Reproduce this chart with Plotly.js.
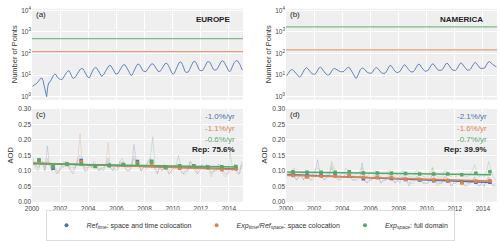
<!DOCTYPE html>
<html><head><meta charset="utf-8">
<script src="https://cdn.plot.ly/plotly-3.0.1.min.js"></script>
<style>html,body{margin:0;padding:0;background:#fff}#chart{width:500px;height:241px}</style>
</head><body><div id="chart"></div>
<script>
// ---------- DATA ----------
const startYear = 2000;
const years = [2000,2001,2002,2003,2004,2005,2006,2007,2008,2009,2010,2011,2012,2013,2014];
const yTickVals = [1,10,100,1000,10000];
const yTickText = ['10<sup>0</sup>','10<sup>1</sup>','10<sup>2</sup>','10<sup>3</sup>','10<sup>4</sup>'];

// Number of points (monthly), Europe
const euPoints = [
 3.0,3.2,3.6,3.9,4.3,5.0,6.5,7.0,7.2,5.5,3.0,1.5,
 1.0,3.0,4.5,4.8,6.0,8.5,10.0,11.0,10.5,8.0,6.8,6.5,
 6.3,6.0,7.0,9.0,11.0,13.0,15.0,16.0,13.0,9.0,7.5,7.0,
 7.5,8.5,11.0,14.0,17.0,19.0,20.0,19.5,16.0,12.0,9.0,8.0,
 7.5,8.0,11.0,15.0,19.0,21.0,22.0,20.0,16.0,12.0,9.5,8.5,
 10.0,11.0,14.0,18.0,22.0,26.0,28.0,26.0,21.0,16.0,12.0,11.0,
 11.5,12.0,15.0,19.0,24.0,28.0,30.0,29.0,24.0,18.0,14.0,12.0,
 9.5,10.0,13.0,18.0,24.0,29.0,32.0,31.0,26.0,20.0,16.0,15.0,
 14.0,15.0,18.0,22.0,27.0,31.0,33.0,32.0,27.0,21.0,17.0,15.0,
 14.5,15.0,18.0,23.0,28.0,33.0,35.0,33.0,27.0,20.0,15.0,12.0,
 11.0,12.0,16.0,22.0,30.0,37.0,40.0,38.0,30.0,21.0,15.0,13.0,
 13.0,14.0,18.0,25.0,33.0,40.0,43.0,41.0,33.0,24.0,18.0,16.0,
 15.5,16.0,19.0,26.0,34.0,40.0,42.0,40.0,33.0,24.0,19.0,17.0,
 17.0,17.5,21.0,28.0,36.0,42.0,45.0,43.0,35.0,26.0,20.0,17.0,
 14.0,16.0,21.0,29.0,37.0,43.0,46.0,45.0,38.0,30.0,22.0,17.0];
// Number of points (monthly), North America
const naPoints = [
 9.0,11.0,14.0,16.0,17.0,18.0,16.0,14.0,12.0,10.0,8.5,8.0,
 8.5,10.0,13.0,17.0,20.0,22.0,20.0,17.0,14.0,12.0,11.0,11.0,
 11.0,12.0,15.0,19.0,22.0,23.0,21.0,17.0,14.0,12.0,10.5,10.0,
 10.0,11.0,14.0,17.0,19.0,20.0,19.0,17.0,16.0,15.0,14.5,14.0,
 14.0,15.0,17.0,20.0,22.0,23.0,21.0,17.0,13.0,10.0,8.0,7.0,
 7.5,10.0,14.0,18.0,20.0,21.0,20.0,17.0,15.0,13.0,12.5,12.0,
 12.0,13.0,16.0,19.0,21.0,22.0,20.0,17.0,14.0,12.5,12.0,12.0,
 12.0,14.0,18.0,23.0,27.0,28.0,25.0,20.0,16.0,14.0,13.0,13.0,
 13.5,15.0,19.0,24.0,28.0,30.0,27.0,22.0,18.0,15.0,14.0,14.0,
 14.0,16.0,20.0,26.0,30.0,32.0,29.0,23.0,19.0,16.0,15.0,15.0,
 15.5,17.0,21.0,27.0,31.0,33.0,30.0,24.0,20.0,17.5,16.5,16.0,
 16.5,18.0,22.0,28.0,33.0,35.0,32.0,26.0,21.0,18.0,17.0,16.5,
 16.0,18.0,23.0,29.0,34.0,36.0,33.0,27.0,22.0,19.0,17.0,17.0,
 17.0,19.0,24.0,30.0,35.0,38.0,35.0,29.0,24.0,21.0,20.0,20.0,
 19.5,21.0,26.0,33.0,39.0,42.0,40.0,35.0,30.0,27.0,25.0,24.0];
// Total points: full domain / space colocation
const euSpacePoints = 120, euFullPoints = 480;
const naSpacePoints = 145, naFullPoints = 1700;

// AOD bimonthly, Europe
const euAodRef = [
 .14,.11,.10,.12,.13,.10, .18,.12,.10,.11,.09,.10, .12,.11,.13,.12,.10,.09,
 .11,.14,.15,.14,.10,.10, .12,.11,.13,.12,.10,.11, .10,.12,.14,.11,.10,.12,
 .11,.13,.12,.12,.10,.10, .12,.185,.13,.12,.10,.11, .11,.13,.14,.13,.10,.09,
 .12,.10,.12,.11,.09,.10, .11,.12,.12,.10,.09,.10, .10,.13,.12,.11,.09,.10,
 .12,.11,.12,.11,.09,.10, .10,.12,.11,.10,.09,.09, .11,.10,.12,.10,.09,.12];
const euAodExpT = [
 .13,.12,.11,.12,.12,.10, .14,.12,.10,.11,.10,.09, .11,.12,.13,.11,.10,.10,
 .12,.13,.22,.12,.10,.11, .11,.12,.12,.11,.10,.11, .11,.12,.19,.11,.10,.11,
 .10,.12,.13,.11,.10,.10, .11,.15,.12,.13,.10,.10, .10,.12,.13,.12,.11,.09,
 .11,.10,.11,.10,.09,.10, .10,.11,.12,.10,.09,.09, .10,.12,.11,.10,.09,.10,
 .11,.10,.11,.10,.08,.10, .10,.11,.11,.09,.08,.09, .10,.10,.11,.09,.09,.12];
const euAodExpS = [
 .12,.12,.11,.12,.13,.11, .13,.12,.11,.12,.10,.10, .11,.13,.12,.12,.11,.11,
 .11,.13,.14,.12,.11,.11, .12,.11,.12,.12,.11,.10, .11,.12,.13,.12,.11,.10,
 .11,.13,.14,.12,.11,.11, .12,.14,.13,.12,.10,.11, .12,.13,.14,.21,.11,.10,
 .11,.11,.12,.11,.10,.10, .11,.12,.15,.11,.10,.10, .11,.13,.12,.11,.10,.11,
 .12,.11,.12,.11,.10,.10, .11,.12,.12,.11,.10,.10, .16,.11,.12,.11,.10,.13];
// AOD bimonthly, North America
const naAodRef = [
 .09,.08,.10,.09,.07,.08, .09,.07,.09,.08,.07,.08, .10,.135,.09,.08,.07,.08,
 .09,.11,.09,.08,.07,.08, .08,.09,.09,.08,.07,.07, .08,.08,.125,.07,.06,.07,
 .07,.08,.09,.08,.06,.07, .07,.08,.09,.07,.06,.07, .06,.08,.09,.07,.05,.07,
 .07,.08,.08,.07,.06,.06, .06,.07,.09,.07,.06,.06, .06,.08,.08,.07,.05,.06,
 .06,.07,.07,.06,.05,.06, .06,.07,.08,.06,.05,.06, .05,.07,.08,.06,.05,.06];
const naAodExpT = [
 .08,.09,.09,.08,.07,.08, .08,.07,.09,.08,.07,.07, .08,.10,.09,.08,.07,.08,
 .08,.12,.09,.08,.07,.07, .08,.09,.09,.08,.07,.07, .07,.08,.10,.08,.06,.07,
 .07,.09,.09,.08,.06,.07, .07,.09,.09,.08,.06,.07, .07,.08,.08,.07,.06,.06,
 .06,.08,.08,.07,.06,.06, .06,.07,.11,.07,.05,.06, .06,.08,.08,.07,.05,.06,
 .06,.07,.07,.06,.05,.05, .06,.07,.08,.06,.05,.06, .05,.07,.08,.07,.05,.05];
const naAodExpS = [
 .10,.09,.10,.11,.08,.09, .10,.09,.10,.10,.08,.09, .10,.11,.10,.09,.08,.09,
 .09,.13,.11,.09,.08,.09, .09,.11,.10,.10,.08,.09, .09,.10,.11,.09,.08,.09,
 .09,.10,.10,.09,.08,.09, .09,.10,.10,.09,.08,.09, .08,.10,.10,.09,.08,.08,
 .08,.10,.10,.09,.08,.08, .08,.10,.11,.09,.08,.08, .08,.10,.10,.09,.08,.09,
 .08,.09,.09,.09,.08,.08, .09,.10,.12,.09,.08,.09, .08,.10,.13,.10,.08,.07];

// Yearly means
const euYearRef  = [.135,.108,.121,.133,.115,.118,.119,.130,.130,.111,.113,.115,.111,.110,.108];
const euYearExpT = [.131,.113,.120,.128,.115,.116,.119,.125,.123,.110,.108,.113,.110,.103,.106];
const euYearExpS = [.134,.115,.122,.122,.114,.117,.120,.122,.130,.112,.116,.116,.112,.113,.114];
const naYearRef  = [.088,.083,.087,.088,.082,.074,.078,.075,.072,.070,.068,.067,.063,.063,.063];
const naYearExpT = [.085,.080,.082,.082,.083,.078,.078,.078,.073,.072,.070,.069,.061,.066,.068];
const naYearExpS = [.097,.095,.095,.095,.097,.093,.093,.092,.091,.090,.090,.090,.087,.092,.097];

// Trend lines [start, end]
const trendDates = ['2000-02-01','2014-08-01'];
const euTrendRef = [.124,.106], euTrendExpT = [.125,.104], euTrendExpS = [.123,.112];
const naTrendRef = [.088,.062], naTrendExpT = [.086,.067], naTrendExpS = [.096,.087];

const euTrendText = ['-1.0%/yr','-1.1%/yr','-0.6%/yr','Rep: 75.6%'];
const naTrendText = ['-2.1%/yr','-1.6%/yr','-0.7%/yr','Rep: 39.9%'];
const legendNames = [
 '<i>Ref<sub>time</sub></i>: space and time colocation',
 '<i>Exp<sub>time</sub>/Ref<sub>space</sub></i>: space colocation',
 '<i>Exp<sub>space</sub></i>: full domain'];

// ---------- helpers ----------
const pad = n => (n<10?'0':'')+n;
const monthDates = n => Array.from({length:n},(_,i)=>`${startYear+Math.floor(i/12)}-${pad(i%12+1)}-15`);
const biDates = n => Array.from({length:n},(_,i)=>`${startYear+Math.floor(i/6)}-${pad(2*(i%6)+2)}-01`);
const midYear = years.map(y=>`${y}-07-01`);
const xFull = ['2000-01-01','2015-01-01'];

const BLUE='#4c72b0', ORANGE='#dd8452', GREEN='#55a868';
const traces = [];
function countPanel(xa, ya, pts, spaceN, fullN){
  traces.push({x:xFull,y:[fullN,fullN],xaxis:xa,yaxis:ya,mode:'lines',line:{color:GREEN,width:1.2},opacity:0.75,showlegend:false,hoverinfo:'skip'});
  traces.push({x:xFull,y:[spaceN,spaceN],xaxis:xa,yaxis:ya,mode:'lines',line:{color:ORANGE,width:1.2},opacity:0.75,showlegend:false,hoverinfo:'skip'});
  traces.push({x:monthDates(pts.length),y:pts,xaxis:xa,yaxis:ya,mode:'lines',line:{color:BLUE,width:1},opacity:0.85,showlegend:false});
}
function aodPanel(xa, ya, r, t, s, yr, yt, ys, tr, tt, ts){
  [[r,BLUE],[t,ORANGE],[s,GREEN]].forEach(([d,c])=>traces.push({x:biDates(d.length),y:d,xaxis:xa,yaxis:ya,mode:'lines',line:{color:c,width:0.8},opacity:0.28,showlegend:false}));
  [[tr,BLUE],[tt,ORANGE],[ts,GREEN]].forEach(([d,c])=>traces.push({x:trendDates,y:d,xaxis:xa,yaxis:ya,mode:'lines',line:{color:c,width:1.5},showlegend:false}));
  [[yr,BLUE],[yt,ORANGE],[ys,GREEN]].forEach(([d,c])=>traces.push({x:midYear,y:d,xaxis:xa,yaxis:ya,mode:'markers',marker:{color:c,size:3.5,symbol:'square'},showlegend:false}));
}
countPanel('x','y',euPoints,euSpacePoints,euFullPoints);
countPanel('x2','y2',naPoints,naSpacePoints,naFullPoints);
aodPanel('x3','y3',euAodRef,euAodExpT,euAodExpS,euYearRef,euYearExpT,euYearExpS,euTrendRef,euTrendExpT,euTrendExpS);
aodPanel('x4','y4',naAodRef,naAodExpT,naAodExpS,naYearRef,naYearExpT,naYearExpS,naTrendRef,naTrendExpT,naTrendExpS);
[BLUE,ORANGE,GREEN].forEach((c,i)=>traces.push({x:[null],y:[null],xaxis:'x3',yaxis:'y3',mode:'markers',marker:{color:c,size:4},name:legendNames[i],showlegend:true}));

const FONT = 'Liberation Sans, Arial, sans-serif';
const tickFont = {family:FONT,size:6.5,color:'#444'};
const titleFont = {family:FONT,size:7.5,color:'#333'};
const xBase = {type:'date',range:xFull,dtick:'M24',tick0:'2000-01-01',tickformat:'%Y',gridcolor:'#ffffff',gridwidth:1,zeroline:false,showline:false,ticks:'',tickfont:tickFont,ticklabelstandoff:2};
const yLog = {type:'log',range:[-0.15,4.07],tickvals:yTickVals,ticktext:yTickText,gridcolor:'#ffffff',zeroline:false,showline:false,ticks:'',tickfont:tickFont,title:{text:'Number of Points',font:titleFont,standoff:2}};
const yAod = {range:[0,0.3],dtick:0.05,tickformat:'.2f',gridcolor:'#ffffff',zeroline:false,showline:false,ticks:'',tickfont:tickFont,title:{text:'AOD',font:titleFont,standoff:3}};
const dL=[0.064,0.486], dR=[0.572,0.994], dT=[0.577,0.963], dB=[0.145,0.539];

const ann = [];
function addAnn(xref,yref,x,y,text,opts){ann.push(Object.assign({xref,yref,x,y,text,showarrow:false,font:{family:FONT,size:8,color:'#222'}},opts||{}));}
addAnn('x domain','y domain',0.01,0.935,'(a)',{xanchor:'left',yanchor:'middle'});
addAnn('x2 domain','y2 domain',0.01,0.935,'(b)',{xanchor:'left',yanchor:'middle'});
addAnn('x3 domain','y3 domain',0.01,0.94,'(c)',{xanchor:'left',yanchor:'middle'});
addAnn('x4 domain','y4 domain',0.01,0.94,'(d)',{xanchor:'left',yanchor:'middle'});
addAnn('x domain','y domain',0.948,0.882,'<b>EUROPE</b>',{xanchor:'right',yanchor:'middle'});
addAnn('x2 domain','y2 domain',0.943,0.882,'<b>NAMERICA</b>',{xanchor:'right',yanchor:'middle'});
const tColors=[BLUE,ORANGE,GREEN,'#222'], tY=[0.913,0.793,0.674,0.561];
euTrendText.forEach((t,i)=>addAnn('x3 domain','y3 domain',0.970,tY[i],i==3?'<b>'+t+'</b>':t,{xanchor:'right',yanchor:'middle',font:{family:FONT,size:8,color:tColors[i]}}));
naTrendText.forEach((t,i)=>addAnn('x4 domain','y4 domain',0.962,tY[i],i==3?'<b>'+t+'</b>':t,{xanchor:'right',yanchor:'middle',font:{family:FONT,size:8,color:tColors[i]}}));

const layout = {
  width:500,height:241,margin:{l:0,r:0,t:0,b:0},paper_bgcolor:'#ffffff',plot_bgcolor:'#efefef',
  font:{family:FONT},
  xaxis:Object.assign({},xBase,{domain:dL,anchor:'y',showticklabels:false}),
  xaxis2:Object.assign({},xBase,{domain:dR,anchor:'y2',showticklabels:false}),
  xaxis3:Object.assign({},xBase,{domain:dL,anchor:'y3'}),
  xaxis4:Object.assign({},xBase,{domain:dR,anchor:'y4'}),
  yaxis:Object.assign({},yLog,{domain:dT,anchor:'x'}),
  yaxis2:Object.assign({},yLog,{domain:dT,anchor:'x2'}),
  yaxis3:Object.assign({},yAod,{domain:dB,anchor:'x3'}),
  yaxis4:Object.assign({},yAod,{domain:dB,anchor:'x4'}),
  showlegend:true,
  legend:{orientation:'h',x:0.5,xanchor:'center',y:0.046,yanchor:'middle',font:{family:FONT,size:7,color:'#333'},bgcolor:'#ffffff',bordercolor:'#dddddd',borderwidth:1,itemwidth:30,tracegroupgap:0},
  annotations:ann
};
Plotly.newPlot('chart',traces,layout,{staticPlot:true,displayModeBar:false});
</script></body></html>
